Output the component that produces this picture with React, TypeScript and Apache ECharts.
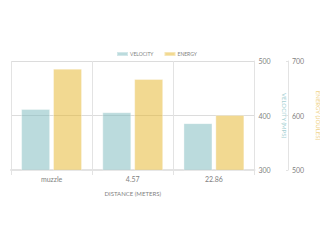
import React, { useEffect, useRef } from "react";
import * as echarts from "echarts";

const categories = ["muzzle", "4.57", "22.86"];
const velocityValues = [412, 406, 386];
const energyValues = [686, 667, 601];
const velocityTicks = { min: 300, max: 500, interval: 100 };
const energyTicks = { min: 500, max: 700, interval: 100 };

const FONT = "Lato";
const GRAY = "#7f7f7f";
const LINE = "#e3e3e3";

export default function App() {
  const ref = useRef<HTMLDivElement>(null);
  useEffect(() => {
    if (!ref.current) return;
    const chart = echarts.init(ref.current, null, { renderer: "svg" });
    chart.setOption({
      animation: false,
      backgroundColor: "#fff",
      textStyle: { fontFamily: FONT },
      legend: {
        top: 51,
        left: 116,
        padding: 0,
        itemWidth: 11,
        itemHeight: 4,
        itemGap: 10,
        icon: "rect",
        textStyle: { fontSize: 5, color: GRAY, fontFamily: FONT, padding: [0, 0, 0, -3] },
        data: ["VELOCITY", "ENERGY"],
      },
      grid: {
        left: 11,
        right: 65.5,
        top: 61,
        bottom: 70,
        containLabel: false,
        outerBoundsMode: "none",
      },
      xAxis: {
        type: "category",
        data: categories,
        name: "DISTANCE (METERS)",
        nameLocation: "middle",
        nameGap: 20,
        nameTextStyle: { fontSize: 6, color: GRAY, fontFamily: FONT },
        axisLine: { show: true, lineStyle: { color: LINE, width: 2 } },
        axisTick: { show: true, length: 5, lineStyle: { color: LINE } },
        axisLabel: { fontSize: 7, color: GRAY, margin: 5, fontFamily: FONT },
        splitLine: { show: true, lineStyle: { color: LINE } },
      },
      yAxis: [
        {
          type: "value",
          position: "right",
          ...velocityTicks,
          name: "VELOCITY (MPS)",
          nameLocation: "middle",
          nameRotate: -90,
          nameGap: 21,
          nameTextStyle: { fontSize: 6, color: "#a6d0d3", fontFamily: FONT },
          axisLine: { show: true, lineStyle: { color: LINE } },
          axisTick: { show: false },
          axisLabel: { fontSize: 7, color: GRAY, margin: 4, fontFamily: FONT },
          splitLine: { show: true, lineStyle: { color: "#dcdcdc" } },
        },
        {
          type: "value",
          position: "right",
          offset: 33.5,
          ...energyTicks,
          name: "ENERGY (JOULES)",
          nameLocation: "middle",
          nameRotate: -90,
          nameGap: 18,
          nameTextStyle: { fontSize: 6, color: "#efd38a", fontFamily: FONT },
          axisLine: { show: true, lineStyle: { color: LINE } },
          axisTick: { show: true, inside: true, length: 2, lineStyle: { color: LINE } },
          axisLabel: { fontSize: 7, color: GRAY, margin: 4, fontFamily: FONT },
          splitLine: { show: false },
        },
      ],
      series: [
        {
          name: "VELOCITY",
          type: "bar",
          yAxisIndex: 0,
          data: velocityValues,
          barWidth: 29,
          barGap: "10%",
          itemStyle: {
            color: "rgba(119,183,187,0.5)",
            borderColor: "rgba(255,255,255,0.35)",
            borderWidth: 1,
          },
        },
        {
          name: "ENERGY",
          type: "bar",
          yAxisIndex: 1,
          data: energyValues,
          barWidth: 29,
          barGap: "10%",
          itemStyle: {
            color: "rgba(229,179,35,0.5)",
            borderColor: "rgba(255,255,255,0.35)",
            borderWidth: 1,
          },
        },
      ],
    });
    return () => chart.dispose();
  }, []);
  return <div ref={ref} style={{ width: 320, height: 240, position: "absolute", left: 0, top: 0 }} />;
}
